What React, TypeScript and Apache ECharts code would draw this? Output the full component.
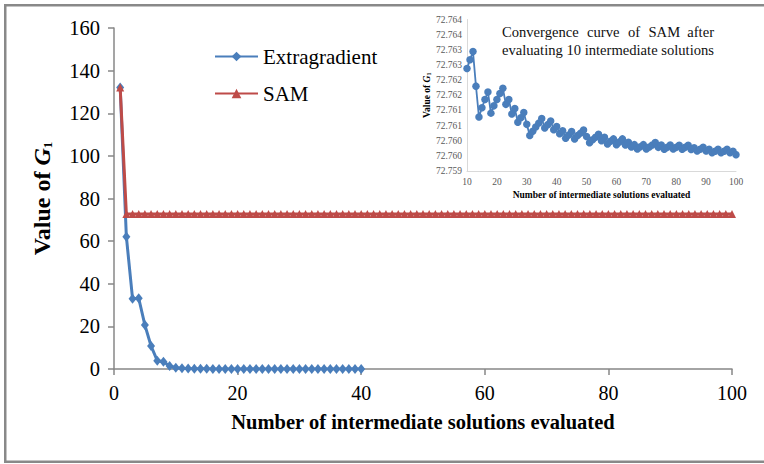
import React, { useEffect, useRef } from "react";
import * as echarts from "echarts";

// Objective value G1 per evaluated intermediate solution (x = 1..40)
const EXTRAGRADIENT_VALUES = [
  132.1, 62.1, 33.0, 33.2, 20.6, 10.8, 3.9, 3.4, 1.4, 0.6,
  0.35, 0.22, 0.15, 0.1, 0.07, 0.05, 0.04, 0.03, 0.02, 0.02,
  0.01, 0.01, 0.01, 0.01, 0.01, 0.01, 0.01, 0.01, 0.01, 0.01,
  0.01, 0.01, 0.01, 0.01, 0.01, 0.01, 0.01, 0.01, 0.01, 0.01,
];

// SAM, x = 1..9
const SAM_EARLY = [132.1, 72.78, 72.772, 72.768, 72.766, 72.765, 72.764, 72.763, 72.763];

// SAM, x = 10..100 (shown in detail in the small panel)
const SAM_TAIL = [
  72.76238, 72.76267, 72.76294, 72.7618, 72.76078, 72.76109, 72.76136, 72.76161, 72.76091, 72.76115,
  72.76136, 72.76156, 72.76173, 72.7612, 72.76136, 72.76088, 72.76106, 72.76061, 72.76076, 72.76093,
  72.76054, 72.76017, 72.76031, 72.76045, 72.76058, 72.76073, 72.76042, 72.76053, 72.76065, 72.76036,
  72.76047, 72.76023, 72.76033, 72.76008, 72.76019, 72.7603, 72.76006, 72.76017, 72.76025, 72.76035,
  72.76014, 72.75993, 72.76003, 72.76011, 72.76021, 72.76, 72.76011, 72.75989, 72.75998, 72.76006,
  72.75987, 72.75996, 72.76006, 72.75986, 72.75995, 72.75979, 72.75987, 72.75973, 72.7598, 72.75987,
  72.75973, 72.75979, 72.75986, 72.75994, 72.75978, 72.75986, 72.75972, 72.75978, 72.75986, 72.75973,
  72.75978, 72.75985, 72.75972, 72.75978, 72.75985, 72.75971, 72.75977, 72.75966, 72.75972, 72.75978,
  72.75966, 72.75972, 72.7596, 72.75965, 72.75972, 72.7596, 72.75965, 72.75972, 72.7596, 72.75965,
  72.75954,
];

const SAM_VALUES = [...SAM_EARLY, ...SAM_TAIL];
const SAM_DETAIL_START = 10;

// Tick labels of the detail panel's value axis (3-decimal rounding of 0.0005 steps)
const DETAIL_Y_LABELS = [
  "72.759", "72.760", "72.760", "72.761", "72.761", "72.762",
  "72.762", "72.763", "72.763", "72.764", "72.764",
];
const DETAIL_Y_MIN = 72.759;
const DETAIL_Y_STEP = 0.0005;

const SERIES_NAMES = ["Extragradient", "SAM"];

const SERIF = "Liberation Serif";
const BLUE = "#4A7EBB";
const RED = "#BE4B48";
const AXIS_GREY = "#878787";

export default function App() {
  const ref = useRef<HTMLDivElement>(null);

  useEffect(() => {
    if (!ref.current) return;
    const chart = echarts.init(ref.current, null, { renderer: "svg" });

    const extraData = EXTRAGRADIENT_VALUES.map((v, i) => [i + 1, v]);
    const samData = SAM_VALUES.map((v, i) => [i + 1, v]);
    const samDetail = SAM_VALUES.slice(SAM_DETAIL_START - 1).map((v, i) => [i + SAM_DETAIL_START, v]);

    // justified first line of the detail caption
    const captionWords = [
      { t: "Convergence", x: 502, align: "left" },
      { t: "curve", x: 587, align: "left" },
      { t: "of", x: 628, align: "left" },
      { t: "SAM", x: 648.5, align: "left" },
      { t: "after", x: 714, align: "right" },
    ];
    const captionStyle = { fontSize: 14.6, fontFamily: SERIF, fill: "#111" };

    chart.setOption({
      animation: false,
      backgroundColor: "#fff",
      textStyle: { fontFamily: SERIF },
      legend: {
        orient: "vertical",
        left: 209,
        top: 41,
        itemWidth: 43,
        itemHeight: 12,
        itemGap: 16,
        data: SERIES_NAMES,
        textStyle: { fontFamily: SERIF, fontSize: 21, color: "#000", lineHeight: 21 },
      },
      grid: [
        { left: 114, right: 32, top: 28, bottom: 95 },
        { left: 467, right: 28, top: 19.5, bottom: 293 },
      ],
      xAxis: [
        {
          type: "value",
          gridIndex: 0,
          min: 0,
          max: 100,
          interval: 20,
          splitLine: { show: false },
          axisLine: { onZero: false, lineStyle: { color: AXIS_GREY, width: 1.5 } },
          axisTick: { show: true, length: 6, lineStyle: { color: AXIS_GREY, width: 1.5 } },
          axisLabel: { fontFamily: SERIF, fontSize: 20, color: "#000", margin: 14 },
          name: "Number of intermediate solutions evaluated",
          nameLocation: "middle",
          nameGap: 42,
          nameTextStyle: { fontFamily: SERIF, fontSize: 20.5, fontWeight: "bold", color: "#000" },
        },
        {
          type: "value",
          gridIndex: 1,
          min: 10,
          max: 100,
          interval: 10,
          splitLine: { show: false },
          axisLine: { onZero: false, lineStyle: { color: "#d9d9d9", width: 1 } },
          axisTick: { show: false },
          axisLabel: { fontFamily: SERIF, fontSize: 9.5, color: "#595959", margin: 6 },
          name: "Number of intermediate solutions evaluated",
          nameLocation: "middle",
          nameGap: 19,
          nameTextStyle: { fontFamily: SERIF, fontSize: 9.5, fontWeight: "bold", color: "#000" },
        },
      ],
      yAxis: [
        {
          type: "value",
          gridIndex: 0,
          min: 0,
          max: 160,
          interval: 20,
          splitLine: { show: false },
          axisLine: { show: true, lineStyle: { color: AXIS_GREY, width: 1.5 } },
          axisTick: { show: true, length: 6, lineStyle: { color: AXIS_GREY, width: 1.5 } },
          axisLabel: { fontFamily: SERIF, fontSize: 20.5, color: "#000", margin: 14 },
          name: "Value of {g|G}{s|1}",
          nameLocation: "middle",
          nameGap: 60,
          nameTextStyle: {
            fontFamily: SERIF,
            fontSize: 24,
            fontWeight: "bold",
            color: "#000",
            rich: {
              g: { fontFamily: SERIF, fontSize: 24, fontWeight: "bold", fontStyle: "italic", color: "#000" },
              s: { fontFamily: SERIF, fontSize: 13, fontWeight: "bold", color: "#000", verticalAlign: "bottom" },
            },
          },
        },
        {
          type: "value",
          gridIndex: 1,
          min: DETAIL_Y_MIN,
          max: 72.764,
          interval: DETAIL_Y_STEP,
          splitLine: { show: false },
          axisLine: { show: true, lineStyle: { color: "#d9d9d9", width: 1 } },
          axisTick: { show: false },
          axisLabel: {
            fontFamily: SERIF,
            fontSize: 9.5,
            color: "#595959",
            margin: 5,
            formatter: (v: number) => {
              const idx = Math.round((v - DETAIL_Y_MIN) / DETAIL_Y_STEP);
              return DETAIL_Y_LABELS[idx] ?? "";
            },
          },
          name: "Value of {g|G}{s|1}",
          nameLocation: "middle",
          nameGap: 30,
          nameTextStyle: {
            fontFamily: SERIF,
            fontSize: 9.5,
            fontWeight: "bold",
            color: "#000",
            rich: {
              g: { fontFamily: SERIF, fontSize: 9.5, fontWeight: "bold", fontStyle: "italic", color: "#000" },
              s: { fontFamily: SERIF, fontSize: 6, fontWeight: "bold", color: "#000", verticalAlign: "bottom" },
            },
          },
        },
      ],
      series: [
        {
          name: SERIES_NAMES[0],
          type: "line",
          xAxisIndex: 0,
          yAxisIndex: 0,
          data: extraData,
          symbol: "diamond",
          symbolSize: [8, 10],
          color: BLUE,
          lineStyle: { width: 3, color: BLUE },
          itemStyle: { color: BLUE },
          z: 2,
        },
        {
          name: SERIES_NAMES[1],
          type: "line",
          xAxisIndex: 0,
          yAxisIndex: 0,
          data: samData,
          symbol: "triangle",
          symbolSize: 8,
          color: RED,
          lineStyle: { width: 3, color: RED },
          itemStyle: { color: RED },
          z: 3,
        },
        {
          name: "SAM detail",
          type: "line",
          xAxisIndex: 1,
          yAxisIndex: 1,
          data: samDetail,
          symbol: "circle",
          symbolSize: 7.5,
          color: BLUE,
          lineStyle: { width: 1.8, color: BLUE },
          itemStyle: { color: BLUE },
          z: 2,
        },
      ],
      graphic: [
        {
          type: "rect",
          shape: { x: 5.25, y: 5.25, width: 800, height: 456.5 },
          style: { fill: "none", stroke: "#898989", lineWidth: 2.5 },
          silent: true,
          z: 100,
        },
        ...captionWords.map((w) => ({
          type: "text",
          x: w.x,
          y: 31.5,
          style: {
            ...captionStyle,
            text: w.t,
            align: w.align,
            textAlign: w.align,
            verticalAlign: "middle",
            textVerticalAlign: "middle",
          },
          silent: true,
        })),
        {
          type: "text",
          x: 502,
          y: 49.5,
          style: {
            ...captionStyle,
            text: "evaluating 10 intermediate solutions",
            align: "left",
            textAlign: "left",
            verticalAlign: "middle",
            textVerticalAlign: "middle",
          },
          silent: true,
        },
      ],
    });

    return () => chart.dispose();
  }, []);

  return (
    <div
      ref={ref}
      style={{ position: "fixed", left: 0, top: 0, width: 764, height: 464 }}
    />
  );
}
